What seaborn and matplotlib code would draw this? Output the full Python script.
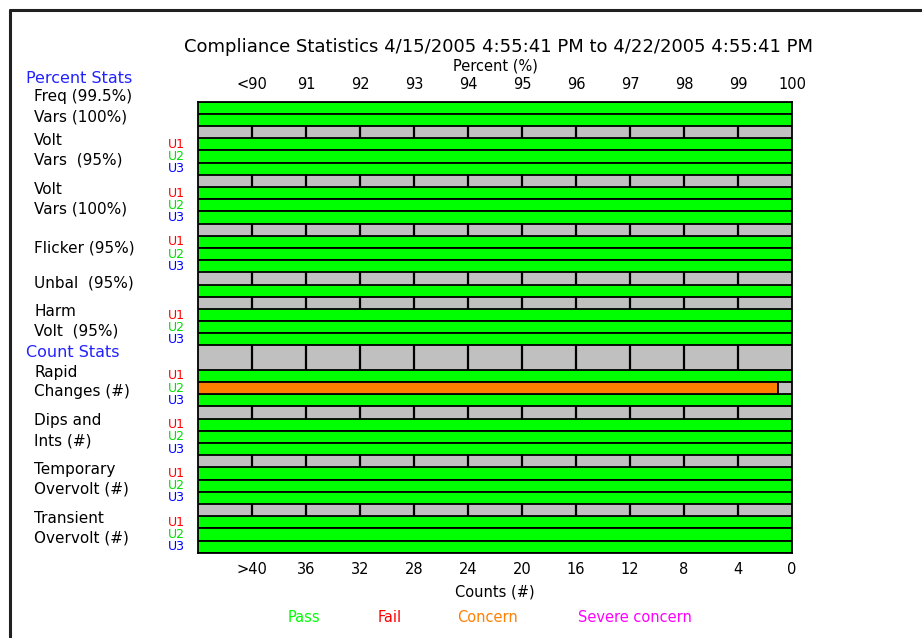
import numpy as np
import pandas as pd
import matplotlib.pyplot as plt
import matplotlib.transforms as mtransforms
from matplotlib.lines import Line2D
import seaborn as sns

# Data
title = "Compliance Statistics 4/15/2005 4:55:41 PM to 4/22/2005 4:55:41 PM"

pct_groups = ["Freq (99.5%)", "Vars (100%)", "Volt\nVars  (95%)", "Volt\nVars (100%)",
              "Flicker (95%)", "Unbal  (95%)", "Harm\nVolt  (95%)"]
pct_rows = [1, 1, 3, 3, 3, 1, 3]
pct_values = [100, 100,
              100, 100, 100,
              100, 100, 100,
              100, 100, 100,
              100,
              100, 100, 100]
pct_status = ["Pass"] * 15

count_groups = ["Rapid\nChanges (#)", "Dips and\nInts (#)", "Temporary\nOvervolt (#)",
                "Transient\nOvervolt (#)"]
count_rows = [3, 3, 3, 3]
count_values = [0, 1, 0,
                0, 0, 0,
                0, 0, 0,
                0, 0, 0]
count_status = ["Pass", "Concern", "Pass",
                "Pass", "Pass", "Pass",
                "Pass", "Pass", "Pass",
                "Pass", "Pass", "Pass"]

pct_ticks = [90, 91, 92, 93, 94, 95, 96, 97, 98, 99, 100]
pct_ticklabels = ["<90", "91", "92", "93", "94", "95", "96", "97", "98", "99", "100"]
count_ticks = [40, 36, 32, 28, 24, 20, 16, 12, 8, 4, 0]
count_ticklabels = [">40", "36", "32", "28", "24", "20", "16", "12", "8", "4", "0"]

legend_names = ["Pass", "Fail", "Concern", "Severe concern"]
status_colors = {"Pass": "#00ff00", "Fail": "#ff0000", "Concern": "#ff8000",
                 "Severe concern": "#ff00ff"}
unit_colors = {"U1": "#ff0000", "U2": "#00e000", "U3": "#0000ff"}


# percent <-> counts, same scale used by top and bottom axes
def pct_to_count(p):
    return (100 - p) * 4


def count_to_pct(c):
    return 100 - np.asarray(c) / 4


# layout: blank (gray) rows before each group, label offset from first row
pct_gap = [0, 0, 1, 1, 1, 1, 1]
count_gap = [2, 1, 1, 1]
label_dy = [-0.9, -0.25, 0.5, 0.5, 0.5, -0.6, 0.5, 0.5, 0.5, 0.5, 0.5]

rows = []
labels = []
pos = 0
vals = list(zip(pct_values, pct_status)) + \
    [(count_to_pct(v), s) for v, s in zip(count_values, count_status)]
it = iter(vals)
for name, n, gap, dy in zip(pct_groups + count_groups, pct_rows + count_rows,
                            pct_gap + count_gap, label_dy):
    pos += gap
    labels.append((name, pos + dy))
    for k in range(n):
        v, s = next(it)
        rows.append({"pos": pos, "value": float(v), "status": s,
                     "unit": f"U{k + 1}" if n == 3 else ""})
        pos += 1
n_units = pos
df = pd.DataFrame(rows)

sns.set_style("white")
plt.rcParams["font.family"] = ["DejaVu Sans"]
plt.rcParams["text.color"] = "black"
plt.rcParams["axes.labelcolor"] = "black"
plt.rcParams["xtick.color"] = "black"

fig = plt.figure(figsize=(9.22, 6.38), dpi=100)
ax = fig.add_axes([198 / 922, (638 - 552.7) / 638, 594 / 922, 451 / 638])
ax.set_facecolor("#c0c0c0")

sns.barplot(data=df, x="value", y="pos", hue="status", palette=status_colors,
            orient="y", native_scale=True, width=1, dodge=False,
            edgecolor="black", linewidth=1.3, saturation=1, legend=False,
            ax=ax, zorder=3)

ax.set_xlim(89, 100)
ax.set_ylim(n_units - 0.5, -0.5)
ax.set_yticks([])
ax.set_ylabel("")
for x in pct_ticks[:-1]:
    ax.axvline(x, color="black", lw=1.6, zorder=1)
for s in ax.spines.values():
    s.set_color("black")
    s.set_linewidth(1.3)
    s.set_zorder(5)

# top axis: percent
ax.xaxis.tick_top()
ax.set_xticks(pct_ticks)
ax.set_xticklabels(pct_ticklabels, fontsize=10.5)
ax.tick_params(axis="x", length=0, pad=7)
ax.xaxis.set_label_position("top")
ax.set_xlabel("Percent (%)", fontsize=10.5, labelpad=5)

# bottom axis: counts
sec = ax.secondary_xaxis("bottom", functions=(pct_to_count, count_to_pct))
sec.set_xticks(count_ticks)
sec.set_xticklabels(count_ticklabels, fontsize=10.5)
sec.tick_params(length=0, pad=7)
sec.spines["bottom"].set_visible(False)
sec.set_xlabel("Counts (#)", fontsize=10.5, labelpad=5)

fig.text(498 / 922, 1 - 47 / 638, title, ha="center", va="center", fontsize=13)

# left labels
tr = mtransforms.blended_transform_factory(fig.transFigure, ax.transData)
for name, y in labels:
    ax.text(34 / 922, y, name, transform=tr, ha="left", va="center",
            fontsize=11, linespacing=1.4, clip_on=False)
for _, r in df.iterrows():
    if r["unit"]:
        ax.text(176 / 922, r["pos"], r["unit"], transform=tr, ha="center",
                va="center", fontsize=9, color=unit_colors[r["unit"]],
                clip_on=False)
ax.text(26 / 922, -2.4, "Percent Stats", transform=tr, ha="left", va="center",
        fontsize=11.5, color="#2222ff", clip_on=False)
ax.text(26 / 922, 20.1, "Count Stats", transform=tr, ha="left", va="center",
        fontsize=11.5, color="#2222ff", clip_on=False)

# legend as coloured words
for name, x in zip(legend_names, [304, 390, 487, 635]):
    fig.text(x / 922, 1 - 617 / 638, name, ha="center", va="center",
             fontsize=10.5, color=status_colors[name])

# window frame
fig.add_artist(Line2D([10 / 922, 1], [1 - 10 / 638] * 2, color="#202020", lw=2.2))
fig.add_artist(Line2D([10 / 922] * 2, [0, 1 - 10 / 638], color="#202020", lw=2.2))

fig.savefig("out.png", dpi=100, facecolor="white")
